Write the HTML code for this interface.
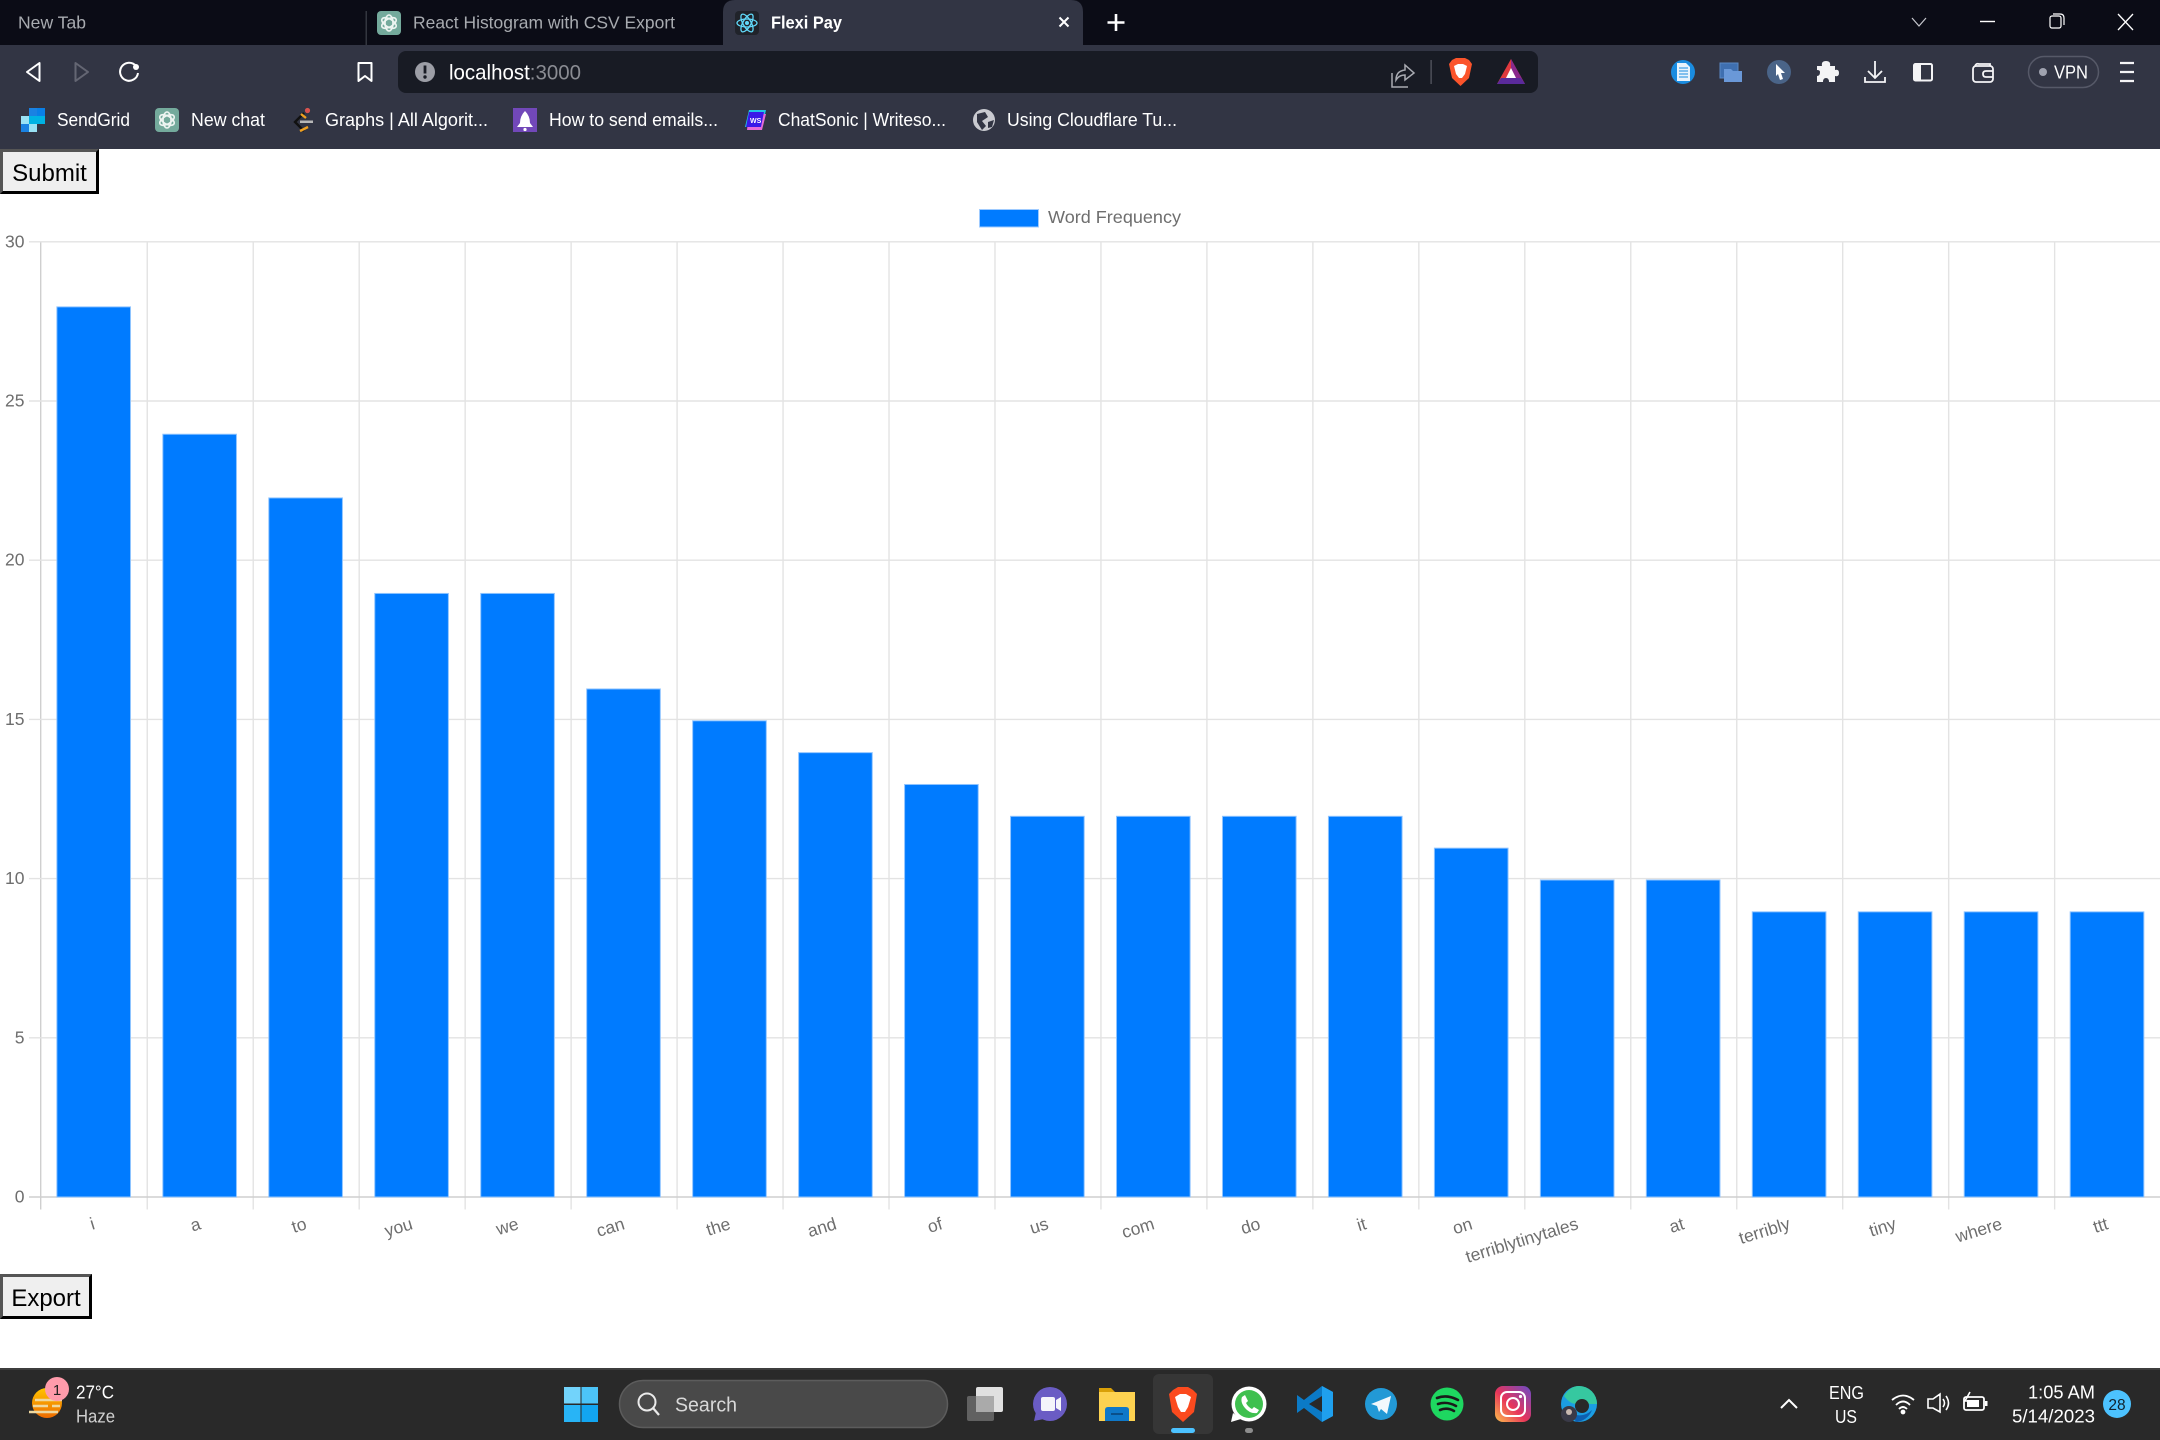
<!DOCTYPE html>
<html lang="en">
<head>
<meta charset="utf-8">
<title>Flexi Pay - Word Frequency Histogram</title>
<style>
  html, body { margin: 0; padding: 0; background: #fff; width: 2160px; height: 1440px; overflow: hidden; }
  svg { position: absolute; left: 0; top: 0; display: block; }
  svg text { font-family: "Liberation Sans", Arial, sans-serif; }
  button {
    position: absolute; left: 0; margin: 0; padding: 5px 0 0 0; box-sizing: border-box;
    background: #efefef; color: #000; border-style: solid; border-width: 3px;
    border-color: #555 #000 #000 #555;
    font: 24px "Liberation Sans", Arial, sans-serif; text-align: center;
  }
</style>
</head>
<body>
<svg width="2160" height="1440" viewBox="0 0 2160 1440" xmlns="http://www.w3.org/2000/svg">
  <rect width="2160" height="1440" fill="#ffffff"/>

  <!-- Tab strip -->
  <g>
    <rect width="2160" height="45" fill="#0b0c16"/>
    <g>
      <text x="18" y="28.5" font-size="17.5" fill="#a8abb0" textLength="68" lengthAdjust="spacingAndGlyphs">New Tab</text>
    </g>
    <rect x="365.5" y="11" width="1.5" height="34" fill="#33363f"/>
    <g>
      <rect x="377" y="11" width="24" height="24" rx="4" fill="#74aa9c"/>
      <g fill="none" stroke="#eef5f2" stroke-width="1.6">
        <ellipse cx="389" cy="23" rx="8" ry="4" transform="rotate(30 389 23)"/>
        <ellipse cx="389" cy="23" rx="8" ry="4" transform="rotate(-30 389 23)"/>
        <ellipse cx="389" cy="23" rx="8" ry="4" transform="rotate(90 389 23)"/>
      </g>
      <text x="413" y="28.5" font-size="17.5" fill="#a8abb0" textLength="262" lengthAdjust="spacingAndGlyphs">React Histogram with CSV Export</text>
    </g>
    <g>
      <path d="M723 45 V12 Q723 0 735 0 H1071 Q1083 0 1083 12 V45 Z" fill="#323544"/>
      <rect x="735" y="11" width="24" height="24" rx="4" fill="#20232a"/>
      <g fill="none" stroke="#61dafb" stroke-width="1.3">
        <ellipse cx="747" cy="23" rx="10" ry="4"/>
        <ellipse cx="747" cy="23" rx="10" ry="4" transform="rotate(60 747 23)"/>
        <ellipse cx="747" cy="23" rx="10" ry="4" transform="rotate(-60 747 23)"/>
      </g>
      <circle cx="747" cy="23" r="2" fill="#61dafb"/>
      <text x="771" y="28.5" font-size="17.5" font-weight="700" fill="#ffffff" textLength="71" lengthAdjust="spacingAndGlyphs">Flexi Pay</text>
      <path d="M1059.5 17.5 L1068.5 26.5 M1068.5 17.5 L1059.5 26.5" stroke="#fff" stroke-width="2" fill="none"/>
    </g>
    <path d="M1116 14 V31 M1107.5 22.5 H1124.5" stroke="#fff" stroke-width="2.6" fill="none"/>
    <path d="M1912 18 L1919 26 L1926 18" stroke="#c8c9cf" stroke-width="1.2" fill="none"/>
    <path d="M1980 21.5 H1995" stroke="#fff" stroke-width="1.4"/>
    <g fill="none" stroke="#fff" stroke-width="1.2">
      <rect x="2050" y="16" width="11" height="12" rx="2"/>
      <path d="M2053 14 H2060 Q2064 14 2064 18 V25"/>
    </g>
    <path d="M2118 14 L2133 30 M2133 14 L2118 30" stroke="#fff" stroke-width="1.3" fill="none"/>
  </g>

  <!-- Toolbar + bookmarks background -->
  <rect y="45" width="2160" height="104" fill="#323544"/>
  <g fill="none" stroke-linejoin="round">
    <path d="M39.5 63 V81 L27 72 Z" stroke="#fff" stroke-width="2"/>
    <path d="M75.5 63 V81 L88 72 Z" stroke="#646673" stroke-width="2"/>
    <g>
      <path d="M136 66 A9 9 0 1 0 138 73" stroke="#fff" stroke-width="2"/>
      <circle cx="136" cy="67" r="3" fill="#fff"/>
    </g>
    <path d="M358.5 63 H371.5 V81 L365 76 L358.5 81 Z" stroke="#fff" stroke-width="2"/>
  </g>

  <!-- Address bar -->
  <g>
    <rect x="398" y="51" width="1140" height="42" rx="8" fill="#181b24"/>
    <circle cx="425" cy="72" r="10" fill="#9c9ea6"/>
    <rect x="423.6" y="65.5" width="2.8" height="8" fill="#181b24"/>
    <circle cx="425" cy="77" r="1.7" fill="#181b24"/>
    <text x="449" y="79.5" font-size="21.5" textLength="132" lengthAdjust="spacingAndGlyphs"><tspan fill="#ffffff">localhost</tspan><tspan fill="#8a8c93">:3000</tspan></text>
    <g fill="none" stroke="#a9abb2" stroke-width="1.5">
      <path d="M1392 73 V87 H1408"/>
      <path d="M1396 80 Q1396 71 1405 70 V65 L1414 73 L1405 80 V75 Q1399 75 1396 80 Z"/>
    </g>
    <rect x="1430.5" y="60" width="1.2" height="24" fill="#5a5c66"/>
    <g>
      <path d="M1452 60 L1456 58 H1465 L1469 60 L1472 64 L1469 78 L1460.5 86 L1452 78 L1449 64 Z" fill="#fb542b"/>
      <path d="M1454 66 L1458 64 H1463 L1467 66 L1465 74 L1462 78 H1459 L1456 74 Z" fill="#fff"/>
    </g>
    <g>
      <path d="M1511 59 L1525 84 H1497 Z" fill="#e0393e"/>
      <path d="M1511 59 L1525 84 H1511 Z" fill="#8a2a8c"/>
      <path d="M1511 68 L1516 78 H1506 Z" fill="#ffffff"/>
      <path d="M1501 78 H1521 L1525 84 H1497 Z" fill="#5a2a9c"/>
    </g>
  </g>

  <!-- Extensions -->
  <g>
    <g>
      <circle cx="1683" cy="72" r="12" fill="#1a8ce0"/>
      <path d="M1677 63 H1686 L1690 67 V81 H1677 Z" fill="#e8f3fc"/>
      <path d="M1679 68 H1688 M1679 71 H1688 M1679 74 H1688 M1679 77 H1688" stroke="#1a8ce0" stroke-width="1"/>
    </g>
    <g>
      <rect x="1720" y="63" width="18" height="15" fill="#3f6fb0" stroke="#5a88c4"/>
      <path d="M1724 69 H1731 L1733 71 H1742 V82 H1724 Z" fill="#6a98d8"/>
    </g>
    <g>
      <circle cx="1779" cy="72" r="12" fill="#4a6488"/>
      <path d="M1776 64 L1785 73 H1781 L1783 79 L1780 80 L1778 74 L1776 76 Z" fill="#fff"/>
    </g>
    <path d="M1817 66 H1822 Q1821 61 1826 61 Q1831 61 1830 66 H1835 V70 Q1839 69 1839 73 Q1839 77 1835 76 V82 H1829 Q1829 78 1826 78 Q1823 78 1823 82 H1817 V76 Q1820 76 1820 72 Q1820 70 1817 70 Z" fill="#f4f4f6"/>
    <g fill="none" stroke="#f4f4f6" stroke-width="1.8">
      <path d="M1875 61 V78 M1868 71 L1875 78 L1882 71"/>
      <path d="M1865 77 V82 H1885 V77"/>
    </g>
    <g>
      <rect x="1914" y="64" width="18" height="16.5" rx="1.5" fill="none" stroke="#f4f4f6" stroke-width="2"/>
      <rect x="1914" y="64" width="7" height="16.5" fill="#f4f4f6"/>
    </g>
    <g fill="none" stroke="#f4f4f6" stroke-width="1.8">
      <rect x="1973" y="66" width="20" height="16" rx="3"/>
      <path d="M1975 66 Q1976 63 1979 64 H1990 V66"/>
      <path d="M1993 71 H1986 Q1983 71 1983 74 Q1983 77 1986 77 H1993"/>
    </g>
    <g>
      <rect x="2028.5" y="56.5" width="70" height="31" rx="15.5" fill="none" stroke="#565968" stroke-width="1.5"/>
      <circle cx="2043" cy="72" r="4" fill="#a0a3b0"/>
      <text x="2054" y="78.5" font-size="18" fill="#ffffff" textLength="34" lengthAdjust="spacingAndGlyphs">VPN</text>
    </g>
    <path d="M2120 63 H2134 M2120 72 H2134 M2120 81 H2134" stroke="#f4f4f6" stroke-width="2.2"/>
  </g>

  <!-- Bookmarks -->
  <g font-size="18" fill="#ffffff">
    <g>
      <rect x="29" y="108" width="8" height="8" fill="#1a82e2"/>
      <rect x="37" y="108" width="8" height="8" fill="#0a7fe6"/>
      <rect x="21" y="116" width="8" height="8" fill="#99e1f4"/>
      <rect x="29" y="116" width="8" height="8" fill="#00b2e3"/>
      <rect x="37" y="116" width="8" height="8" fill="#00b2e3"/>
      <rect x="21" y="124" width="8" height="8" fill="#1a82e2"/>
      <rect x="29" y="124" width="8" height="8" fill="#99e1f4"/>
      <text x="57" y="126" textLength="73" lengthAdjust="spacingAndGlyphs" fill="#ffffff">SendGrid</text>
    </g>
    <g>
      <rect x="155" y="108" width="24" height="24" rx="4" fill="#74aa9c"/>
      <g fill="none" stroke="#eef5f2" stroke-width="1.6">
        <ellipse cx="167" cy="120" rx="8" ry="4" transform="rotate(30 167 120)"/>
        <ellipse cx="167" cy="120" rx="8" ry="4" transform="rotate(-30 167 120)"/>
        <ellipse cx="167" cy="120" rx="8" ry="4" transform="rotate(90 167 120)"/>
      </g>
      <text x="191" y="126" textLength="74" lengthAdjust="spacingAndGlyphs" fill="#ffffff">New chat</text>
    </g>
    <g>
      <path d="M304 113 L295 122 L304 131" fill="none" stroke="#111" stroke-width="2.4"/>
      <path d="M301 114 L306 118 M300 131 L308 127" fill="none" stroke="#f0a020" stroke-width="2.4"/>
      <rect x="300" y="120.5" width="13" height="2.5" fill="#b8b8b8"/>
      <circle cx="307.5" cy="110.5" r="2.6" fill="#d9534f"/>
      <text x="325" y="126" textLength="163" lengthAdjust="spacingAndGlyphs" fill="#ffffff">Graphs | All Algorit...</text>
    </g>
    <g>
      <rect x="513" y="108" width="24" height="24" fill="#7248b9"/>
      <path d="M525 111 Q530 116 530 123 L533 127 H517 L520 123 Q520 116 525 111 Z" fill="#fff"/>
      <circle cx="525" cy="129.5" r="1.6" fill="#fff"/>
      <text x="549" y="126" textLength="169" lengthAdjust="spacingAndGlyphs" fill="#ffffff">How to send emails...</text>
    </g>
    <g>
      <path d="M749 110 H766 L762 127 H745 Z" fill="#22c3e6"/>
      <path d="M749 114 H766 L762 130 H747 Z" fill="#e66bd8"/>
      <path d="M749 112 H764 L761 127 H746 Z" fill="#3a18e8"/>
      <text x="750" y="123" font-size="7" font-weight="700" fill="#fff">WS</text>
      <text x="778" y="126" textLength="168" lengthAdjust="spacingAndGlyphs" fill="#ffffff">ChatSonic | Writeso...</text>
    </g>
    <g>
      <circle cx="984" cy="120" r="11" fill="#c9cad0"/>
      <path d="M977 114 L985 112 L988 117 L982 121 L986 126 L982 130 L977 122 Z M988 122 L994 120 L992 127 L988 128 Z" fill="#323544"/>
      <text x="1007" y="126" textLength="170" lengthAdjust="spacingAndGlyphs" fill="#ffffff">Using Cloudflare Tu...</text>
    </g>
  </g>

  <!-- Chart -->
  <g>
    <g id="grid-layer"></g>
    <g id="bars-layer"></g>
    <g id="y-axis-layer"></g>
    <g id="x-axis-layer"></g>
    <g>
      <rect x="979.5" y="209.5" width="59" height="17.5" fill="#007bff" stroke="#9fcbff" stroke-width="1"/>
      <text id="legend-label" x="1048" y="223" font-size="17.5" fill="#6e6e6e" textLength="133" lengthAdjust="spacingAndGlyphs"></text>
    </g>
  </g>

  <!-- Taskbar -->
  <g>
    <rect y="1368" width="2160" height="72" fill="#292929"/>
    <rect y="1368" width="2160" height="2" fill="#3e3e3e"/>

    <g>
      <defs>
        <linearGradient id="sun-gradient" x1="0" y1="0" x2="0" y2="1">
          <stop offset="0" stop-color="#ffc400"/><stop offset="1" stop-color="#ee6a00"/>
        </linearGradient>
      </defs>
      <circle cx="47" cy="1403" r="15" fill="url(#sun-gradient)"/>
      <path d="M35 1400 H62 M33 1406 H48 M52 1406 H60 M29 1412 H58" stroke="#eed8a0" stroke-width="2.6"/>
      <circle cx="57" cy="1389" r="12" fill="#ff9bab"/>
      <text x="57" y="1395" font-size="15" text-anchor="middle" fill="#222">1</text>
      <text x="76" y="1398.5" font-size="18" fill="#ffffff" textLength="38" lengthAdjust="spacingAndGlyphs">27°C</text>
      <text x="76" y="1422.5" font-size="18" fill="#cfcfcf" textLength="39" lengthAdjust="spacingAndGlyphs">Haze</text>
    </g>

    <g>
      <rect x="564" y="1387" width="16.5" height="16.5" fill="#72d3fb"/>
      <rect x="581.5" y="1387" width="16.5" height="16.5" fill="#4cc4f8"/>
      <rect x="564" y="1405" width="16.5" height="17" fill="#28b4f6"/>
      <rect x="581.5" y="1405" width="16.5" height="17" fill="#12a5f0"/>
    </g>

    <g>
      <rect x="619.5" y="1380.5" width="328" height="47" rx="23.5" fill="#494949" stroke="#5c5c5c" stroke-width="1.5"/>
      <circle cx="647" cy="1402" r="8.5" fill="none" stroke="#eaeaea" stroke-width="2"/>
      <path d="M653 1408 L659 1415" stroke="#eaeaea" stroke-width="2.2"/>
      <text x="675" y="1411.5" font-size="20" fill="#d8d8d8" textLength="62" lengthAdjust="spacingAndGlyphs">Search</text>
    </g>

    <g>
      <rect x="967" y="1396" width="27" height="25" rx="2" fill="#616161"/>
      <rect x="976" y="1387" width="27" height="25" rx="2" fill="#f0f0f0" fill-opacity="0.92"/>
      <rect x="976" y="1396" width="18" height="16" fill="#aaaaaa"/>
    </g>
    <g>
      <ellipse cx="1050" cy="1404" rx="17" ry="17" fill="#6a5cc4"/>
      <path d="M1036 1412 L1034 1421 L1044 1419 Z" fill="#6a5cc4"/>
      <rect x="1041" y="1397" width="14" height="14" rx="2" fill="#f4f4fa"/>
      <path d="M1056 1400 L1061 1397 V1411 L1056 1408 Z" fill="#f4f4fa"/>
    </g>
    <g>
      <path d="M1099 1388 H1111 L1115 1392 H1135 V1421 H1099 Z" fill="#d9a008"/>
      <rect x="1099" y="1392" width="36" height="29" fill="#fdd250"/>
      <path d="M1105 1410 Q1105 1407 1108 1407 H1126 Q1129 1407 1129 1410 V1421 H1105 Z" fill="#0f78c8"/>
      <rect x="1111" y="1413" width="12" height="2" fill="#0a4f8a"/>
    </g>
    <g>
      <rect x="1153" y="1374" width="60" height="60" rx="6" fill="#363636"/>
      <path d="M1173 1390 L1178 1387 H1188 L1193 1390 L1197 1394 L1194 1412 L1183 1422 L1172 1412 L1169 1394 Z" fill="#fb4a1e"/>
      <path d="M1175 1397 L1180 1394 H1186 L1191 1397 L1188 1407 L1185 1412 H1181 L1178 1407 Z" fill="#fff"/>
      <rect x="1171" y="1428" width="24" height="5" rx="2.5" fill="#4cc2ff"/>
    </g>
    <g>
      <circle cx="1249" cy="1404" r="17.5" fill="#fff"/>
      <path d="M1233 1413 L1231 1422 L1241 1419 Z" fill="#fff"/>
      <circle cx="1249" cy="1404" r="14" fill="#3fc04f"/>
      <path d="M1242 1397 L1245 1395 L1248 1401 L1246 1403 Q1248 1407 1252 1409 L1254 1407 L1259 1410 L1257 1413 Q1250 1414 1245 1408 Q1240 1402 1242 1397 Z" fill="#fff"/>
      <rect x="1245" y="1428" width="8" height="5" rx="2.5" fill="#8d8d8d"/>
    </g>
    <g>
      <path d="M1322 1386 L1333 1392 V1416 L1322 1422 L1304 1408 L1297 1413 L1297 1395 L1304 1400 Z" fill="#0b7ac6"/>
      <path d="M1322 1386 L1333 1392 V1416 L1322 1422 Z" fill="#1fa0ee"/>
      <path d="M1322 1396 L1309 1404 L1322 1412 Z" fill="#292929"/>
    </g>
    <g>
      <circle cx="1381" cy="1404" r="16" fill="#2299d6"/>
      <path d="M1371 1404 L1391 1396 L1387 1414 L1381 1409 L1379 1412 L1377 1406 Z" fill="#f2f8fc"/>
    </g>
    <g>
      <circle cx="1447" cy="1404" r="16.5" fill="#1ed760"/>
      <path d="M1437 1398 Q1447 1394 1458 1400 M1438 1404 Q1447 1401 1456 1406 M1440 1410 Q1447 1407 1454 1411" fill="none" stroke="#1a1a1a" stroke-width="2.6" stroke-linecap="round"/>
    </g>
    <g>
      <defs>
        <linearGradient id="instagram-gradient" x1="0" y1="1" x2="1" y2="0">
          <stop offset="0" stop-color="#fdc04b"/><stop offset="0.45" stop-color="#e8345a"/><stop offset="1" stop-color="#6a4cc8"/>
        </linearGradient>
      </defs>
      <rect x="1495" y="1386" width="36" height="36" rx="8" fill="url(#instagram-gradient)"/>
      <rect x="1501" y="1392" width="24" height="24" rx="6" fill="none" stroke="#fff" stroke-width="2"/>
      <circle cx="1513" cy="1404" r="6" fill="none" stroke="#fff" stroke-width="2"/>
      <circle cx="1520.5" cy="1396.5" r="1.6" fill="#fff"/>
    </g>
    <g>
      <circle cx="1579" cy="1404" r="18" fill="#1b9de2"/>
      <path d="M1579 1386 A18 18 0 0 1 1597 1404 H1576 Q1570 1404 1564 1396 Q1570 1386 1579 1386 Z" fill="#36c8a0"/>
      <path d="M1592 1410 A18 18 0 0 1 1576 1422 L1572 1414 Q1584 1418 1592 1410 Z" fill="#0e5fb0"/>
      <circle cx="1582" cy="1406" r="7" fill="#292929"/>
      <circle cx="1569" cy="1414" r="8" fill="#3a3a48"/>
      <circle cx="1569" cy="1412" r="3" fill="#c8b8b0"/>
    </g>

    <path d="M1781 1408 L1789 1400 L1797 1408" fill="none" stroke="#fff" stroke-width="2"/>
    <g font-size="18" fill="#ffffff">
      <text x="1829" y="1399" textLength="35" lengthAdjust="spacingAndGlyphs">ENG</text>
      <text x="1835" y="1423" textLength="22" lengthAdjust="spacingAndGlyphs">US</text>
    </g>
    <g fill="none" stroke="#fff" stroke-width="1.8">
      <path d="M1892 1400 Q1903 1391 1914 1400 M1896 1405 Q1903 1398 1910 1405 M1899 1409 Q1903 1405 1907 1409"/>
      <circle cx="1903" cy="1412" r="1.5" fill="#fff"/>
    </g>
    <g fill="none" stroke="#fff" stroke-width="1.6">
      <path d="M1928 1399 H1933 L1940 1394 V1412 L1933 1408 H1928 Z"/>
      <path d="M1943 1399 Q1946 1403 1943 1407 M1946 1396 Q1951 1403 1946 1410"/>
    </g>
    <g>
      <rect x="1964" y="1397" width="20" height="13" rx="2" fill="none" stroke="#fff" stroke-width="1.8"/>
      <rect x="1985" y="1401" width="2.5" height="5" fill="#fff"/>
      <rect x="1967" y="1400" width="12" height="7" fill="#fff"/>
      <path d="M1970 1392 L1965 1401 H1970 L1968 1406" fill="none" stroke="#fff" stroke-width="1.6"/>
    </g>
    <g font-size="18" fill="#ffffff">
      <text x="2028" y="1398.5" textLength="67" lengthAdjust="spacingAndGlyphs">1:05 AM</text>
      <text x="2012" y="1422.5" textLength="83" lengthAdjust="spacingAndGlyphs">5/14/2023</text>
    </g>
    <g>
      <ellipse cx="2117" cy="1404" rx="14" ry="14" fill="#4cc2ff"/>
      <text x="2117" y="1410" font-size="15.5" text-anchor="middle" fill="#10222e">28</text>
    </g>
  </g>
</svg>

<button style="top:149px;width:99px;height:45px;">Submit</button>
<button style="top:1274px;width:92px;height:45px;">Export</button>

<script>
const seriesName = "Word Frequency";
const categories = ["i", "a", "to", "you", "we", "can", "the", "and", "of", "us", "com", "do", "it", "on", "terriblytinytales", "at", "terribly", "tiny", "where", "ttt"];
const wordCounts = [28, 24, 22, 19, 19, 16, 15, 14, 13, 12, 12, 12, 12, 11, 10, 10, 9, 9, 9, 9];
const yTickLabels = [0, 5, 10, 15, 20, 25, 30];

const SVG_NS = "http://www.w3.org/2000/svg";
const plot = { left: 40.7, right: 2160, top: 241.8, bottom: 1197 };
const bandWidth = (plot.right - plot.left) / categories.length;
const barFraction = 0.695;
const labelAngle = -17;
const gridNudge = 0.6;
const barTopInset = 1.4;

function xBandStart(index) { return plot.left + index * bandWidth; }
function xBandCenter(index) { return xBandStart(index) + bandWidth / 2; }
function yScale(value) {
  const maxTick = yTickLabels[yTickLabels.length - 1];
  return plot.bottom - (value / maxTick) * (plot.bottom - plot.top);
}
function svgEl(tag, attrs, parent) {
  const el = document.createElementNS(SVG_NS, tag);
  for (const key in attrs) el.setAttribute(key, attrs[key]);
  parent.appendChild(el);
  return el;
}

const gridLayer = document.getElementById("grid-layer");
const barsLayer = document.getElementById("bars-layer");
const yLayer = document.getElementById("y-axis-layer");
const xLayer = document.getElementById("x-axis-layer");

document.getElementById("legend-label").textContent = seriesName;

categories.forEach(function (cat, i) {
  const x = xBandStart(i) + (i === 0 ? 0 : gridNudge);
  const line = svgEl("line", { x1: x, x2: x, y1: plot.top, y2: plot.bottom + 12.5, stroke: i === 0 ? "#cfcfcf" : "#e3e3e3", "stroke-width": 1.4 }, gridLayer);
  
  
});

yTickLabels.forEach(function (tick) {
  const y = yScale(tick);
  const line = svgEl("line", { x1: 29, x2: plot.right, y1: y, y2: y, stroke: tick === 0 ? "#cfcfcf" : "#e3e3e3", "stroke-width": 1.4 }, gridLayer);
  
  
  const label = svgEl("text", { x: 24.5, y: y + 5.5, "text-anchor": "end", "font-size": 17.5, fill: "#6e6e6e" }, yLayer);
  label.textContent = String(tick);
  
  
});

wordCounts.forEach(function (value, i) {
  const width = bandWidth * barFraction;
  const top = yScale(value) + barTopInset;
  const bar = svgEl("rect", {
    x: xBandCenter(i) - width / 2,
    y: top,
    width: width,
    height: yScale(0) - top,
    fill: "#007bff",
    stroke: "#8fc4ff",
    "stroke-width": 1
  }, barsLayer);
  
  
});

categories.forEach(function (cat, i) {
  const endX = xBandCenter(i) + 0.4;
  const endY = 1223;
  const label = svgEl("text", {
    x: endX,
    y: endY + 6,
    "text-anchor": "end",
    "font-size": 17.5,
    fill: "#6e6e6e",
    transform: "rotate(" + labelAngle + " " + endX + " " + endY + ")"
  }, xLayer);
  label.textContent = cat;
  
  
});
</script>
</body>
</html>
